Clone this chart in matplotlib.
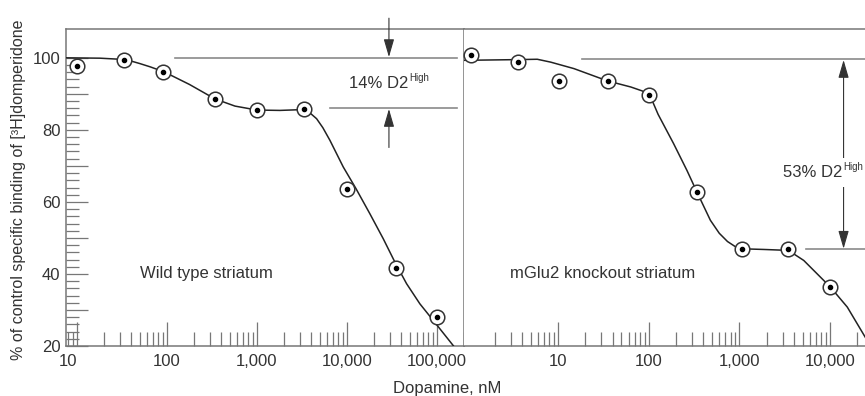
import matplotlib
matplotlib.use("Agg")
import matplotlib.pyplot as plt
from matplotlib.ticker import FixedLocator, LogLocator, NullFormatter
from matplotlib.transforms import ScaledTranslation

plt.rcParams['font.family'] = ['Liberation Sans', 'DejaVu Sans']

# --- data ---
# wild type striatum
wt_conc = [10, 33, 91, 340, 1000, 3300, 10000, 35000, 100000]
wt_bind = [97.6, 99.3, 96.0, 88.6, 85.5, 85.9, 63.6, 41.7, 28.1]
wt_fit_conc = [7.55, 18, 30, 40, 50, 65, 93, 178, 341, 570, 1000, 1800, 3000,
               3800, 4600, 5400, 6470, 9100, 12600, 18000, 25300, 34100,
               46000, 64700, 91000, 152000, 178000]
wt_fit_bind = [100, 99.9, 99.6, 99.1, 98.4, 97.5, 96.1, 92.6, 88.6, 86.6,
               85.5, 85.4, 85.6, 84.9, 83.1, 80.6, 77.1, 69.7, 63.7, 56.7,
               49.8, 43.3, 37.3, 31.7, 27.1, 20.1, 17.8]

# mGlu2 knockout striatum
ko_conc = [1.1, 3.6, 10.3, 36, 100, 340, 1070, 3400, 10000]
ko_bind = [100.9, 98.8, 93.5, 93.5, 89.8, 62.7, 47.0, 47.0, 36.5]
ko_fit_conc = [0.9, 3.5, 5.9, 8.3, 15, 35, 63.5, 85, 100, 112, 127, 188, 264,
               341, 479, 600, 740, 900, 1026, 1860, 3000, 3800, 5130, 7850,
               10140, 15500, 24500]
ko_fit_bind = [99.3, 99.5, 99.6, 98.8, 97.0, 93.6, 91.9, 90.8, 89.6, 87.5,
               84.3, 76.2, 68.75, 62.7, 54.9, 51.3, 49.0, 47.6, 47.0, 46.8,
               46.6, 45.9, 43.75, 39.1, 36.3, 30.8, 22.4]

wt_ticks = [10, 100, 1000, 10000, 100000]
wt_ticklabels = ['10', '100', '1,000', '10,000', '100,000']
ko_ticks = [10, 100, 1000, 10000]
ko_ticklabels = ['10', '100', '1,000', '10,000']
y_ticks = [20, 30, 40, 50, 60, 70, 80, 90, 100]
y_ticklabels = ['20', '', '40', '', '60', '', '80', '', '100']

SPINE = '#777777'
TEXT = '#333333'
LINE = '#222222'
GUIDE = '#8a8a8a'

fig = plt.figure(figsize=(8.65, 3.96), dpi=100)
ax1 = fig.add_axes([66 / 865, 50 / 396, 398 / 865, 317 / 396])
ax2 = fig.add_axes([464 / 865, 50 / 396, 401 / 865, 317 / 396])


def style_axis(ax, ticks, labels, xlim):
    ax.set_xscale('log')
    ax.set_xlim(*xlim)
    ax.set_ylim(20, 108)
    ax.set_xticks(ticks, labels)
    ax.xaxis.set_minor_locator(LogLocator(base=10, subs=range(2, 10)))
    ax.xaxis.set_minor_formatter(NullFormatter())
    ax.tick_params(axis='x', which='major', direction='in', length=17,
                   width=0.9, color=SPINE, labelsize=12, labelcolor=TEXT, pad=6)
    ax.tick_params(axis='x', which='minor', direction='in', length=10,
                   width=0.9, color=SPINE)
    for s in ax.spines.values():
        s.set_color(SPINE)
        s.set_linewidth(1.1)


style_axis(ax1, wt_ticks, wt_ticklabels, (7.55, 200000))
style_axis(ax2, ko_ticks, ko_ticklabels, (0.918, 24300))

ax1.set_yticks(y_ticks, y_ticklabels)
ax1.yaxis.set_minor_locator(FixedLocator([v for v in range(20, 101, 2) if v % 10]))
ax1.tick_params(axis='y', which='major', direction='in', length=16, width=0.9,
                color=SPINE, labelsize=12, labelcolor=TEXT, pad=4)
ax1.tick_params(axis='y', which='minor', direction='in', length=9.5, width=0.9,
                color=SPINE)

ax2.set_yticks([])
ax2.spines['left'].set_visible(False)
ax2.spines['right'].set_visible(False)

# nudge the first "10" label left like in the original
lbl = ax1.get_xticklabels()[0]
lbl.set_transform(lbl.get_transform() + ScaledTranslation(-9 / 100, 0, fig.dpi_scale_trans))

# curves and points
for ax, fc, fb, c, b in [(ax1, wt_fit_conc, wt_fit_bind, wt_conc, wt_bind),
                         (ax2, ko_fit_conc, ko_fit_bind, ko_conc, ko_bind)]:
    ax.plot(fc, fb, color=LINE, lw=1.1, zorder=3, solid_joinstyle='round')
    ax.plot(c, b, 'o', ms=10.5, mfc='white', mec='#333333', mew=1.1,
            zorder=4, clip_on=False)
    ax.plot(c, b, 'o', ms=3, mfc='black', mec='black', zorder=5, clip_on=False)

arrow_head = '-|>,head_length=0.55,head_width=0.16'


def d2_label(ax, x, y, prefix, ha, bbox=None):
    t = ax.text(x, y, prefix, ha=ha, va='center', fontsize=12, color=TEXT,
                zorder=6, bbox=bbox)
    ax.annotate('High', xy=(1, 0.55), xycoords=t, xytext=(0.5, 0),
                textcoords='offset points', ha='left', va='bottom',
                fontsize=7, color=TEXT, zorder=7)
    return t


# left annotation: 14% D2High
ax1.plot([123, 167000], [100, 100], color=GUIDE, lw=1.2, zorder=2)
ax1.plot([6470, 167000], [86, 86], color=GUIDE, lw=1.2, zorder=2)
ax1.annotate('', xy=(29300, 100.2), xytext=(29300, 111),
             arrowprops=dict(arrowstyle=arrow_head, color=TEXT, lw=0.8,
                             shrinkA=0, shrinkB=0, mutation_scale=20))
ax1.annotate('', xy=(29300, 85.8), xytext=(29300, 75.1),
             arrowprops=dict(arrowstyle=arrow_head, color=TEXT, lw=0.8,
                             shrinkA=0, shrinkB=0, mutation_scale=20))
d2_label(ax1, 22500, 92.9, '14% D2', 'center')

# right annotation: 53% D2High
ax2.plot([18.4, 30000], [99.6, 99.6], color=GUIDE, lw=1.2, zorder=2)
ax2.plot([5500, 30000], [46.8, 46.8], color=GUIDE, lw=1.2, zorder=2)
ax2.annotate('', xy=(14100, 99.4), xytext=(14100, 47.0),
             arrowprops=dict(arrowstyle='<|-|>,head_length=0.55,head_width=0.16',
                             color=TEXT, lw=0.8, shrinkA=0, shrinkB=0,
                             mutation_scale=20))
d2_label(ax2, 3060, 68.2, '53% D2', 'left',
         bbox=dict(facecolor='white', edgecolor='none', pad=5))
ax2.text(14100, 68.2, '      ', ha='left', va='center', fontsize=12, zorder=5.5,
         bbox=dict(facecolor='white', edgecolor='none', pad=5))

# panel labels
ax1.text(50, 40, 'Wild type striatum', ha='left', va='center', fontsize=12,
         color=TEXT)
ax2.text(2.95, 40, 'mGlu2 knockout striatum', ha='left', va='center',
         fontsize=12, color=TEXT)

fig.text(19 / 865, 1 - 190 / 396, '% of control specific binding of [³H]domperidone',
         rotation=90, ha='center', va='center', fontsize=11.5, color=TEXT)
fig.text(447 / 865, 1 - 388 / 396, 'Dopamine, nM', ha='center', va='center',
         fontsize=12, color=TEXT)

fig.savefig('out.png', dpi=100)
